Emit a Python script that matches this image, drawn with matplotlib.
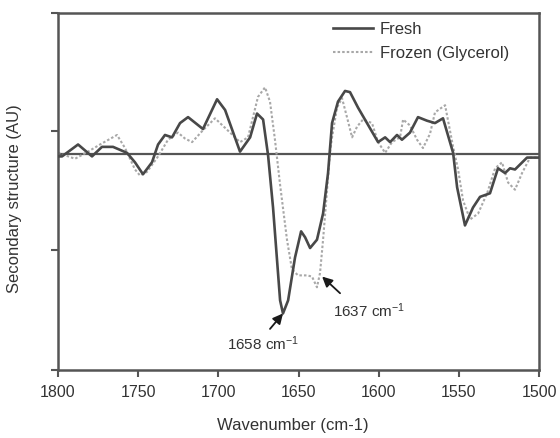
import numpy as np
import matplotlib
matplotlib.use('Agg')
import matplotlib.pyplot as plt

plt.rcParams['font.family'] = ['Liberation Sans', 'DejaVu Sans']
plt.rcParams['mathtext.default'] = 'regular'

# wavenumber (cm-1) and secondary structure (AU)
fresh_wn = [1800, 1797.5, 1787.5, 1778.8, 1772.6, 1765.7, 1757.0, 1752.0, 1747.0, 1741.4,
            1737.6, 1733.3, 1728.9, 1723.9, 1718.9, 1709.6, 1700.8, 1695.8, 1686.5, 1680.2,
            1675.9, 1672.1, 1669.0, 1665.9, 1661.5, 1659.7, 1656.5, 1652.2, 1648.4, 1645.9,
            1642.8, 1638.5, 1634.7, 1631.6, 1629.1, 1625.4, 1621.0, 1617.9, 1612.9, 1607.3,
            1600.4, 1596.0, 1592.9, 1588.6, 1585.5, 1580.5, 1575.5, 1569.9, 1564.9, 1559.9,
            1553.6, 1551.1, 1546.2, 1541.2, 1536.8, 1530.6, 1525.6, 1521.2, 1518.1, 1515.0,
            1507.5, 1500]
fresh_au = [-0.02, -0.02, 0.08, -0.02, 0.06, 0.06, 0.01, -0.07, -0.17, -0.07,
            0.08, 0.16, 0.14, 0.26, 0.31, 0.21, 0.46, 0.37, 0.02, 0.14,
            0.34, 0.29, -0.01, -0.45, -1.23, -1.34, -1.23, -0.87, -0.65, -0.70,
            -0.79, -0.72, -0.50, -0.16, 0.26, 0.44, 0.53, 0.52, 0.39, 0.26,
            0.10, 0.14, 0.10, 0.16, 0.12, 0.18, 0.31, 0.28, 0.26, 0.30,
            0.01, -0.28, -0.60, -0.45, -0.36, -0.33, -0.12, -0.16, -0.12, -0.13,
            -0.03, -0.03]

frozen_wn = [1800, 1789.4, 1781.3, 1773.8, 1763.2, 1758.2, 1752.0, 1748.9, 1744.5, 1737.6,
             1731.4, 1725.2, 1720.8, 1716.4, 1709.6, 1702.1, 1692.7, 1686.5, 1681.5, 1675.3,
             1670.9, 1667.8, 1664.7, 1661.5, 1657.2, 1654.1, 1650.3, 1644.7, 1641.6, 1638.5,
             1636.6, 1634.7, 1632.2, 1630.4, 1629.1, 1626.0, 1622.9, 1619.8, 1616.6, 1613.5,
             1609.8, 1604.2, 1600.4, 1596.0, 1591.7, 1586.7, 1584.8, 1580.5, 1576.1, 1572.4,
             1568.0, 1564.9, 1558.6, 1553.6, 1550.5, 1547.4, 1543.0, 1538.0, 1532.4, 1527.4,
             1523.1, 1519.3, 1515.0, 1510.6, 1505.6, 1500]
frozen_au = [0.01, -0.04, 0.02, 0.08, 0.16, 0.05, -0.13, -0.18, -0.15, -0.02,
             0.12, 0.18, 0.13, 0.10, 0.20, 0.30, 0.18, 0.10, 0.14, 0.48,
             0.56, 0.44, 0.12, -0.26, -0.72, -0.97, -1.02, -1.02, -1.03, -1.12,
             -1.00, -0.72, -0.30, 0.01, 0.14, 0.39, 0.47, 0.31, 0.14, 0.23,
             0.29, 0.26, 0.10, 0.01, 0.10, 0.14, 0.29, 0.24, 0.12, 0.05,
             0.17, 0.35, 0.41, 0.06, -0.13, -0.39, -0.55, -0.50, -0.33, -0.12,
             -0.07, -0.24, -0.30, -0.16, -0.03, -0.03]

xticks = [1800, 1750, 1700, 1650, 1600, 1550, 1500]

fig = plt.figure(figsize=(5.6, 4.38), dpi=100)
ax = fig.add_axes([0.1036, 0.1553, 0.859, 0.815])

ax.axhline(0, color='#555555', lw=1.6, zorder=1)
ax.plot(fresh_wn, fresh_au, color='#484848', lw=1.9, label='Fresh', zorder=3)
ax.plot(frozen_wn, frozen_au, color='#a8a8a8', lw=1.5, ls=(0, (1.2, 1.0)),
        label='Frozen (Glycerol)', zorder=2)

ax.set_xlim(1800, 1500)
ax.set_ylim(-1.815, 1.185)
ax.set_xticks(xticks)
ax.set_yticks([-1.815, -0.807, 0.193, 1.185])
ax.set_yticklabels([])
ax.tick_params(axis='x', direction='out', length=5, width=1.5, color='#555555',
               labelsize=11.5, labelcolor='#333333', pad=6)
ax.tick_params(axis='y', direction='out', length=5, width=1.5, color='#555555')
for s in ax.spines.values():
    s.set_color('#555555')
    s.set_linewidth(1.8)

ax.set_xlabel('Wavenumber (cm-1)', fontsize=12, color='#333333')
ax.xaxis.set_label_coords(0.4886, -0.135)
ax.set_ylabel('Secondary structure (AU)', fontsize=12, color='#333333')
ax.yaxis.set_label_coords(-0.075, 0.48)

# peak annotations
arrow = dict(arrowstyle='-|>', color='#1a1a1a', lw=1.3, mutation_scale=15, shrinkA=0, shrinkB=0)
ax.annotate('', xy=(1659.7, -1.34), xytext=(1667.8, -1.47), arrowprops=arrow)
ax.text(1694.6, -1.59, '1658 cm$^{-1}$', fontsize=11, color='#333333', va='center', ha='left')
ax.annotate('', xy=(1635.3, -1.03), xytext=(1624.1, -1.17), arrowprops=arrow)
ax.text(1628.5, -1.32, '1637 cm$^{-1}$', fontsize=11, color='#333333', va='center', ha='left')

leg = ax.legend(loc='upper left', bbox_to_anchor=((333 - 58) / 481, 0.975), frameon=False,
                fontsize=12, borderpad=0, borderaxespad=0,
                handlelength=2.4, handletextpad=0.4, labelspacing=0.55)
for t in leg.get_texts():
    t.set_color('#333333')

fig.savefig('out.png', dpi=100)
